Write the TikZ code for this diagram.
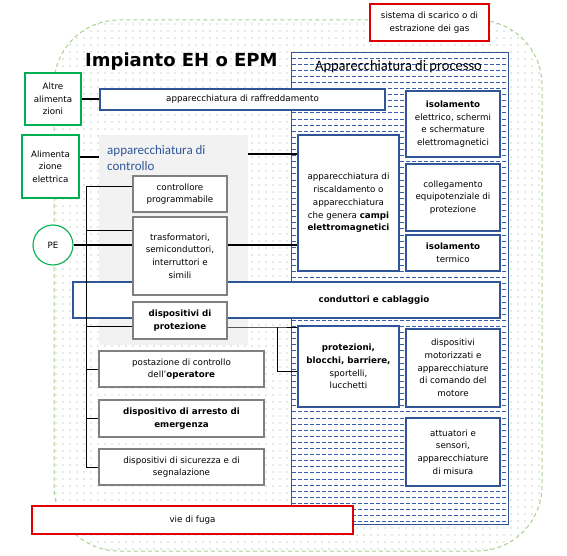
\documentclass[tikz,border=0pt]{standalone}
\usepackage{fontspec}
\setmainfont{DejaVu Sans}
\newfontfamily\calfont{Carlito}
\usetikzlibrary{patterns.meta,calc}
\definecolor{bbl}{HTML}{2F5597}
\definecolor{hatchc}{HTML}{3A5FB0}
\definecolor{grn}{HTML}{00B050}
\definecolor{rd}{HTML}{E00000}
\definecolor{grb}{HTML}{808080}
\definecolor{grayf}{HTML}{F2F2F2}
\definecolor{outerc}{HTML}{A9D18E}
\definecolor{dotc}{HTML}{98A090}
\tikzset{
  body/.style={font=\fontsize{8.7}{12.7}\selectfont, align=center, inner sep=1pt, rectangle},
  bluebox/.style={body, draw=bbl, line width=1.1pt, fill=white},
  graybox/.style={body, draw=grb, line width=1.1pt, fill=white},
  greenbox/.style={body, draw=grn, line width=1.1pt, fill=white},
  redbox/.style={body, draw=rd, line width=1.1pt, fill=white},
  busline/.style={line width=1pt, black},
  thickline/.style={line width=2.2pt, black},
  hatchline/.style={hatchc, line width=0.8pt, dash pattern=on 4pt off 2pt},
}
\begin{document}
\begin{tikzpicture}[x=1pt,y=-1pt]
\useasboundingbox (0,0) rectangle (567,556);
% outer area
\fill[pattern={Dots[distance=7pt,radius=0.7pt]}, pattern color=dotc, rounded corners=65pt] (54,20) rectangle (542,551);
\draw[outerc, line width=1pt, dash pattern=on 4pt off 3pt, rounded corners=65pt] (54,20) rectangle (542,551);
% process box
\node[fill=white, inner sep=0, minimum width=216pt, minimum height=471pt] (proc) at (400,288.5) {};
\begin{scope}
\clip (proc.north west) rectangle (proc.south east);
\foreach \i in {0,...,76} \draw[hatchline] (292,{58+6.1*\i}) -- (508,{58+6.1*\i});
\end{scope}
\draw[bbl, line width=1.1pt] (proc.north west) rectangle (proc.south east);
% control gray area
\node[fill=grayf, inner sep=0, minimum width=149pt, minimum height=210pt] (ctrl) at (173.5,240) {};
% titles
\node[anchor=base west, inner sep=0, font={\bfseries\fontsize{18}{20}\selectfont}] (title) at (85,67) {Impianto EH o EPM};
\node[anchor=base, inner sep=0, font={\calfont\fontsize{14.5}{17}\selectfont}] (ptitle) at (398.5,71) {Apparecchiatura di processo};
\node[anchor=north west, inner sep=0, align=left, text=bbl, font={\calfont\fontsize{13}{16.5}\selectfont}] (ctrllab) at (107,145) {apparecchiatura di\\controllo};
% conductors box
\node[bluebox, minimum width=427pt, minimum height=36pt, label={[body, font={\bfseries\fontsize{8.7}{12.7}\selectfont}, xshift=87.5pt]center:conduttori e cablaggio}] (cond) at (286.5,300) {};
% boxes
\node[redbox, minimum width=119pt, minimum height=37pt] (gas) at (429.5,22.5) {sistema di scarico o di\\estrazione dei gas};
\node[bluebox, minimum width=285pt, minimum height=21pt] (raff) at (242.5,99.5) {apparecchiatura di raffreddamento};
\node[greenbox, minimum width=56pt, minimum height=52pt] (altre) at (53,99) {Altre\\alimenta\\zioni};
\node[greenbox, minimum width=57pt, minimum height=63pt] (alim) at (50.5,166.5) {Alimenta\\zione\\elettrica};
\node[graybox, minimum width=94pt, minimum height=36pt] (ctrlprog) at (180,194) {controllore\\programmabile};
\node[graybox, minimum width=94pt, minimum height=78pt] (tras) at (180,256) {trasformatori,\\semiconduttori,\\interruttori e\\simili};
\node[graybox, minimum width=94pt, minimum height=37pt] (dprot) at (180,320.5) {\textbf{dispositivi di}\\\textbf{protezione}};
\node[body, circle, draw=grn, line width=1.1pt, fill=white, minimum size=40pt] (pe) at (53,245) {PE};
\node[bluebox, minimum width=101pt, minimum height=136pt] (heat) at (348.5,203) {apparecchiatura di\\riscaldamento o\\apparecchiatura\\che genera \textbf{campi}\\\textbf{elettromagnetici}};
\node[bluebox, minimum width=94pt, minimum height=66pt] (isoel) at (453,124) {\textbf{isolamento}\\elettrico, schermi\\e schermature\\elettromagnetici};
\node[bluebox, minimum width=94pt, minimum height=67pt] (coll) at (453,197.5) {collegamento\\equipotenziale di\\protezione};
\node[bluebox, minimum width=94pt, minimum height=36pt] (isoterm) at (453,253) {\textbf{isolamento}\\termico};
\node[bluebox, minimum width=101pt, minimum height=81pt] (prot) at (348.5,366.5) {\textbf{protezioni,}\\\textbf{blocchi, barriere,}\\sportelli,\\lucchetti};
\node[bluebox, minimum width=94pt, minimum height=78pt] (motor) at (453,368) {dispositivi\\motorizzati e\\apparecchiature\\di comando del\\motore};
\node[bluebox, minimum width=94pt, minimum height=68pt] (attua) at (453,452) {attuatori e\\sensori,\\apparecchiature\\di misura};
\node[graybox, minimum width=165pt, minimum height=36pt] (postaz) at (181.5,369) {postazione di controllo\\dell’\textbf{operatore}};
\node[graybox, minimum width=165pt, minimum height=37pt] (arresto) at (181.5,418.5) {\textbf{dispositivo di arresto di}\\\textbf{emergenza}};
\node[graybox, minimum width=165pt, minimum height=36pt] (sicur) at (181.5,467) {dispositivi di sicurezza e di\\segnalazione};
\node[redbox, minimum width=321pt, minimum height=28pt] (fuga) at (192.5,520) {vie di fuga};
% connectors
\draw[thickline] (altre.east) -- (altre.east -| raff.west);
\draw[thickline] ([yshift=9.5pt]alim.east) -- ([yshift=9.5pt]alim.east -| ctrl.west);
\draw[thickline] ([yshift=-19pt]ctrl.north east) -- ([yshift=-19pt]ctrl.north east -| heat.west);
\draw[thickline] (pe.east) -- (pe.east -| tras.west);
\draw[thickline] (pe.east -| tras.east) -- (pe.east -| heat.west);
\coordinate (bus) at (86,187);
\draw[busline] (bus -| ctrlprog.west) -- (bus) -- (bus |- sicur.west) -- (sicur.west);
\draw[busline] ([yshift=-14pt]tras.north west) -- ([yshift=-14pt]tras.north west -| bus);
\draw[busline] ([yshift=-6pt]dprot.west) -- ([yshift=-6pt]dprot.west -| bus);
\draw[busline] (postaz.west) -- (postaz.west -| bus);
\draw[busline] (arresto.west) -- (arresto.west -| bus);
\coordinate (elb) at (277,327);
\draw[busline] ([yshift=-6.5pt]dprot.east) -- (elb) -- (elb -| prot.west);
\draw[busline] (elb) |- ([yshift=-46pt]prot.north west);
\end{tikzpicture}
\end{document}
